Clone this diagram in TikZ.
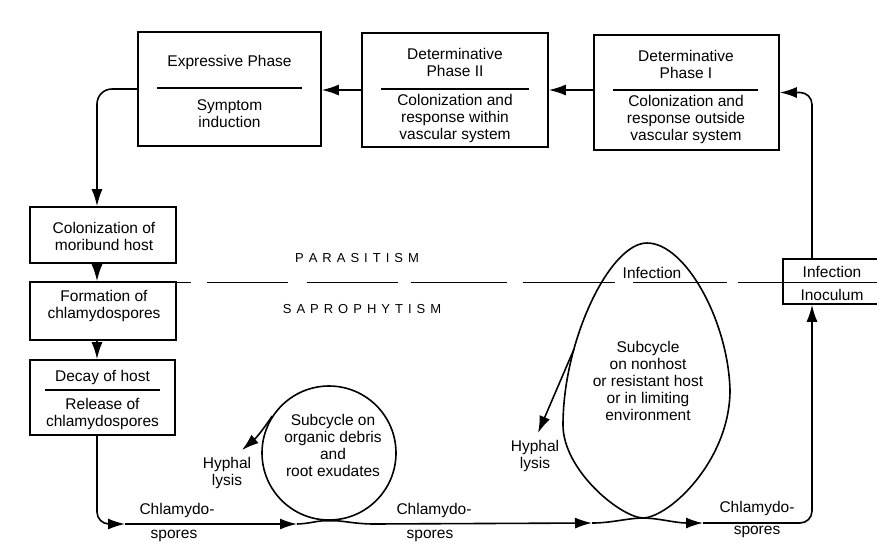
\documentclass[tikz,border=0pt]{standalone}
\usepackage{fontspec}
\setmainfont{Liberation Sans}
\usetikzlibrary{arrows.meta}
\begin{document}
\begin{tikzpicture}[x=1pt,y=-1pt, line width=1.6pt,
  box/.style={draw, inner sep=0pt},
  txt/.style={align=center, inner sep=0pt, font=\fontsize{15.5}{17}\selectfont},
  arr/.style={-{Latex[length=17pt,width=11pt]}},
  rule/.style={line width=1.2pt},
  divline/.style={line width=1.8pt}
]
\useasboundingbox (0,0) rectangle (877,547);
\clip (0,0) rectangle (877,547);

% helper coordinates
\coordinate (lx) at (97,0);
\coordinate (rx) at (812,0);

% top boxes
\node[box, minimum width=183pt, minimum height=114pt] (exp) at (229.5,89) {};
\node[box, minimum width=186pt, minimum height=114pt] (det2) at (455,90) {};
\node[box, minimum width=185pt, minimum height=115pt] (det1) at (686.5,92.5) {};

\node[txt] (expT) at (229.5,62) {Expressive Phase};
\draw[rule] (157,88) -- (302,88);
\node[txt] (expB) at (229.5,114) {Symptom\\induction};

\node[txt] (det2T) at (455,62.5) {Determinative\\Phase II};
\draw[rule] (381,89) -- (529,89);
\node[txt] (det2B) at (455,118) {Colonization and\\response within\\vascular system};

\node[txt] (det1T) at (686,64.5) {Determinative\\Phase I};
\draw[rule] (613,90) -- (758,90);
\node[txt] (det1B) at (686,119) {Colonization and\\response outside\\vascular system};

% left column
\node[box, minimum width=146pt, minimum height=56pt] (col) at (103,235) {};
\node[txt] (colT) at (104,236.5) {Colonization of\\moribund host};
\node[box, minimum width=146pt, minimum height=58pt] (form) at (103,311) {};
\node[txt] (formT) at (104,306) {Formation of\\chlamydospores};
\node[box, minimum width=145pt, minimum height=75pt] (decay) at (102.5,397.5) {};
\node[txt] (decT) at (102.5,377) {Decay of host};
\draw[rule] (45,390) -- (160,390);
\node[txt] (decB) at (102.5,413.5) {Release of\\chlamydospores};

% infection / inoculum box
\node[box, minimum width=97pt, minimum height=45pt] (inf) at (831.5,281.5) {};
\node[txt] (infT) at (832,272) {Infection};
\node[txt] (infB) at (832,295) {Inoculum};
\draw[divline] (783,282.5) -- (880,282.5);

% dashed division line
\foreach \a/\b in {176/191, 207/288, 307/398, 411/507, 523/615, 633/727, 738/783}
  \draw[divline] (\a,282.5) -- (\b,282.5);

\node[font=\fontsize{13}{15}\selectfont] (par) at (357,258)
  {P\kern5pt A\kern5pt R\kern5pt A\kern5pt S\kern5pt I\kern5pt T\kern5pt I\kern5pt S\kern5pt M};
\node[font=\fontsize{13}{15}\selectfont] (sap) at (362,309)
  {S\kern5pt A\kern5pt P\kern5pt R\kern5pt O\kern5pt P\kern5pt H\kern5pt Y\kern5pt T\kern5pt I\kern5pt S\kern5pt M};

% top arrows
\draw[arr] (det1.west |- det2.east) -- (det2.east);
\draw[arr] (det2.west) -- (exp.east |- det2.west);
\draw[arr, rounded corners=15pt] (exp.west) -| (col.north -| lx);
\draw[arr, rounded corners=12pt] (inf.north -| rx) |- (det1.east);

% left column arrows
\draw[arr] (col.south -| lx) -- (form.north -| lx);
\draw[arr] (form.south -| lx) -- (decay.north -| lx);

% small circle subcycle
\node[draw, circle, minimum size=134pt, inner sep=0pt] (circ) at (329,453) {};
\node[txt] (circT) at (333,445) {Subcycle on\\organic debris\\and\\root exudates};
\coordinate (h1tip) at (242,450);
\draw[arr] (circ.147) to[bend left=8] (h1tip);
\node[txt] (hyph1) at (227,473) {Hyphal\\lysis};

% egg subcycle
\coordinate (eggB) at (643,518);
\coordinate (eggH) at (574,349);
\draw (eggB) .. controls (620,517) and (563,470) .. (563,425)
      .. controls (563,340) and (610,243) .. (647,243)
      .. controls (685,243) and (728,320) .. (730,390)
      .. controls (730,460) and (670,517) .. (eggB);
\node[txt] (eggT) at (648,381) {Subcycle\\on nonhost\\or resistant host\\or in limiting\\environment};
\node[txt] (eggI) at (652,273) {Infection};
\coordinate (h2tip) at (538,433);
\draw[arr] (eggH) -- (h2tip);
\node[txt] (hyph2) at (535,456) {Hyphal\\lysis};

% bottom flow
\coordinate (a1) at (125,524);
\coordinate (a2) at (297,524);
\coordinate (a3) at (592,523);
\coordinate (a4) at (703,523);
\draw[arr, rounded corners=12pt] (decay.south -| lx) |- (a1);
\draw[arr] (a1) -- (a2);
\draw[arr] (a2) .. controls (312,523.5) and (318,520) .. (circ.south)
      .. controls (342,520) and (350,523.5) .. (372,524) -- (a3);
\draw[arr] (a3) .. controls (612,523) and (628,518) .. (eggB)
      .. controls (658,518) and (675,523) .. (a4);
\draw[arr, rounded corners=12pt] (a4) -| (inf.south -| rx);

% chlamydospore labels
\node[txt] (c1a) at (177,510) {Chlamydo-};
\node[txt] (c1b) at (174,536) {spores};
\node[txt] (c2a) at (434,510) {Chlamydo-};
\node[txt] (c2b) at (430,536) {spores};
\node[txt] (c3a) at (757,508) {Chlamydo-};
\node[txt] (c3b) at (757,532) {spores};
\end{tikzpicture}
\end{document}
